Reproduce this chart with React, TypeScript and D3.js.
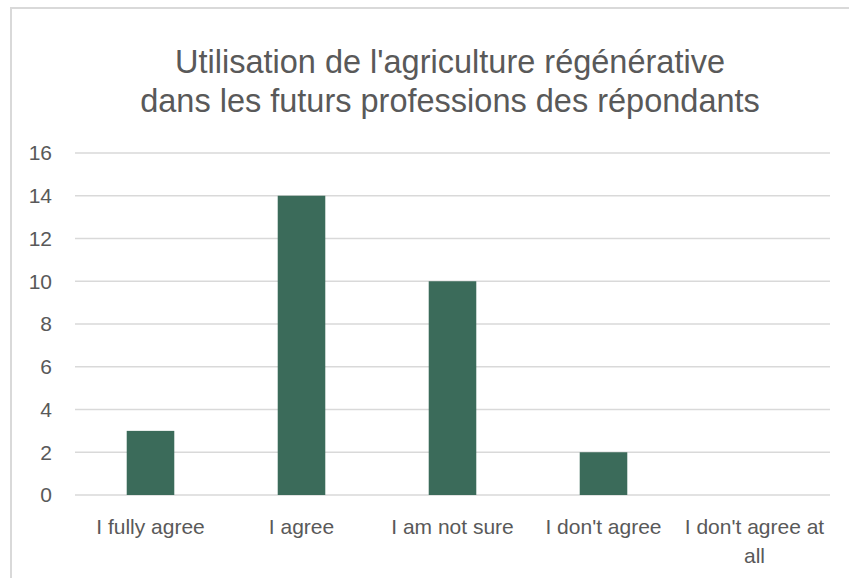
import React, { useEffect, useRef } from "react";
import * as d3 from "d3";

const categories = ["I fully agree", "I agree", "I am not sure", "I don't agree", "I don't agree at all"];
const counts = [3, 14, 10, 2, 0];
const yTicks = [0, 2, 4, 6, 8, 10, 12, 14, 16];
const titleLines = ["Utilisation de l'agriculture régénérative", "dans les futurs professions des répondants"];

const App = () => {
  const svgRef = useRef<SVGSVGElement>(null);

  useEffect(() => {
    const width = 849;
    const height = 578;
    const margin = { top: 153, right: 19, bottom: 83, left: 75 };
    const font = "'Liberation Sans', Arial, sans-serif";
    const textColor = "#595959";

    const svg = d3.select(svgRef.current);
    svg.selectAll("*").remove();
    svg.attr("width", width).attr("height", height);

    // chart frame (only top/left visible in the crop)
    svg
      .append("rect")
      .attr("x", 11)
      .attr("y", 8)
      .attr("width", 1000)
      .attr("height", 1000)
      .attr("fill", "white")
      .attr("stroke", "#d9d9d9")
      .attr("stroke-width", 2);

    const xScale = d3
      .scaleBand()
      .domain(categories)
      .range([margin.left, width - margin.right])
      .paddingInner(0.685)
      .paddingOuter(0.3425);

    const yScale = d3
      .scaleLinear()
      .domain([0, 16])
      .range([height - margin.bottom, margin.top]);

    // title
    svg
      .append("text")
      .attr("x", 450)
      .attr("y", 73)
      .attr("text-anchor", "middle")
      .style("font-family", font)
      .style("font-size", "32.5px")
      .style("fill", textColor)
      .selectAll("tspan")
      .data(titleLines)
      .enter()
      .append("tspan")
      .attr("x", 450)
      .attr("dy", (d, i) => (i === 0 ? 0 : 39))
      .text((d) => d);

    // gridlines
    svg
      .append("g")
      .selectAll("line")
      .data(yTicks)
      .enter()
      .append("line")
      .attr("x1", margin.left)
      .attr("x2", width - margin.right)
      .attr("y1", (d) => yScale(d))
      .attr("y2", (d) => yScale(d))
      .attr("stroke", "#d9d9d9")
      .attr("stroke-width", 1.5);

    // y labels
    svg
      .append("g")
      .selectAll("text")
      .data(yTicks)
      .enter()
      .append("text")
      .attr("x", 52)
      .attr("y", (d) => yScale(d))
      .attr("dy", "0.35em")
      .attr("text-anchor", "end")
      .style("font-family", font)
      .style("font-size", "21px")
      .style("fill", textColor)
      .text((d) => d);

    // bars
    svg
      .append("g")
      .selectAll("rect")
      .data(counts)
      .enter()
      .append("rect")
      .attr("x", (d, i) => xScale(categories[i]) ?? 0)
      .attr("y", (d) => yScale(d))
      .attr("width", xScale.bandwidth())
      .attr("height", (d) => yScale(0) - yScale(d))
      .attr("fill", "#3b6b5a");

    // x labels, wrapped like Excel does
    const step = xScale.step();
    const labels = svg.append("g");
    categories.forEach((cat) => {
      const cx = (xScale(cat) ?? 0) + xScale.bandwidth() / 2;
      const text = labels
        .append("text")
        .attr("x", cx)
        .attr("y", 534)
        .attr("text-anchor", "middle")
        .style("font-family", font)
        .style("font-size", "21px")
        .style("fill", textColor);
      const words = cat.split(" ");
      let line: string[] = [];
      let lineNo = 0;
      let tspan = text.append("tspan").attr("x", cx).attr("dy", 0);
      words.forEach((w) => {
        line.push(w);
        tspan.text(line.join(" "));
        const node = tspan.node() as SVGTSpanElement;
        if (node.getComputedTextLength() > step - 6 && line.length > 1) {
          line.pop();
          tspan.text(line.join(" "));
          line = [w];
          lineNo += 1;
          tspan = text.append("tspan").attr("x", cx).attr("dy", 28.5).text(w);
        }
      });
    });
  }, []);

  return (
    <div>
      <svg ref={svgRef} style={{ position: "absolute", left: 0, top: 0 }}></svg>
    </div>
  );
};

export default App;
